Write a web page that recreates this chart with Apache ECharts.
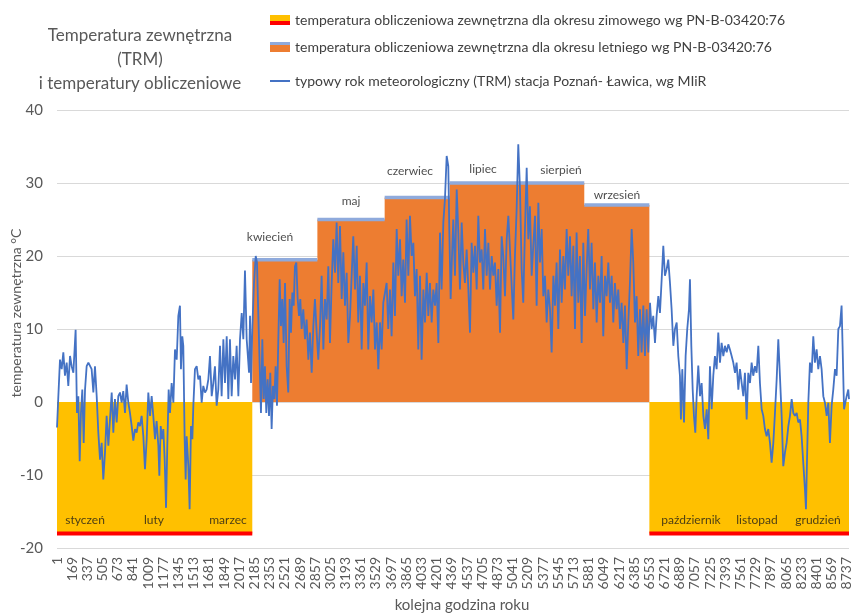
<!DOCTYPE html>
<html>
<head>
<meta charset="utf-8">
<script src="https://cdn.jsdelivr.net/npm/echarts@6.0.0/dist/echarts.min.js"></script>
<style>
html,body{margin:0;padding:0;background:#fff;}
#chart{width:853px;height:614px;}
</style>
</head>
<body>
<div id="chart"></div>
<script>
// ---------- DATA ----------
const titleLines = ['Temperatura zewnętrzna', '(TRM)', 'i temperatury obliczeniowe'];
const winterName = 'temperatura obliczeniowa zewnętrzna dla okresu zimowego wg PN-B-03420:76';
const summerName = 'temperatura obliczeniowa zewnętrzna dla okresu letniego wg PN-B-03420:76';
const trmName = 'typowy rok meteorologiczny (TRM) stacja Poznań- Ławica, wg MIiR';
const yAxisTitle = 'temperatura zewnętrzna °C';
const xAxisTitle = 'kolejna godzina roku';

const hoursInYear = 8760;
const xTickStep = 168;          // labels 1, 169, 337, ... 8737
const yMin = -20, yMax = 40, yStep = 10;

// winter design temperature and its periods (hour ranges)
const winterDesignTemp = -18;
const winterStartHour = [0, 6552];
const winterEndHour = [2160, 8760];

// summer design temperatures per month (April .. September)
const summerStartHour = [2160, 2880, 3624, 4344, 5088, 5832];
const summerEndHour   = [2880, 3624, 4344, 5088, 5832, 6552];
const summerDesignTemp = [19.5, 25, 28, 30, 30, 27];

// month labels
const monthNames = ['styczeń','luty','marzec','kwiecień','maj','czerwiec','lipiec','sierpień','wrzesień','październik','listopad','grudzień'];
const monthLabelHour = [310, 1073, 1891, 2356, 3252, 3904, 4712, 5574, 6193, 7012, 7742, 8417];
const monthLabelTemp = [-16.2, -16.2, -16.2, 22.6, 27.5, 31.6, 31.9, 31.7, 28.3, -16.2, -16.2, -16.2];

// typical meteorological year (hour, °C)
const trmHour = [0,7,15,33,52,70,88,107,125,144,162,181,206,221,236,251,265,280,295,310,328,347,365,383,402,420,439,457,476,494,512,531,549,568,586,605,623,641,660,678,697,715,733,752,770,789,807,826,844,863,881,899,918,936,955,973,992,1010,
1029,1047,1065,1084,1102,1121,1132,1147,1161,1176,1191,1206,1220,1235,1250,1268,1287,1305,1324,1342,1360,1371,1386,1397,1412,1423,1434,1453,1467,1482,1497,1508,1526,1545,1563,1582,1600,1618,1637,1655,1674,1692,1711,1729,1747,1766,1784,1803,1821,1840,1858,1877,1895,1913,1932,1950,1969,1987,2006,2024,2043,2061,
2079,2098,2124,2135,2146,2161,2179,2198,2212,2227,2242,2256,2271,2286,2300,2315,2330,2345,2359,2374,2389,2404,2418,2433,2448,2463,2477,2492,2507,2522,2540,2558,2573,2588,2603,2618,2632,2647,2662,2677,2691,2706,2724,2743,2761,2780,2798,2817,2835,2853,2872,2890,2909,2927,2946,2964,2983,3001,3019,3038,3056,3075,3093,3111,3130,3149,3167,3185,3204,3222,
3241,3277,3296,3315,3332,3351,3370,3388,3406,3425,3443,3462,3480,3499,3517,3536,3554,3572,3591,3609,3646,3664,3683,3701,3720,3738,3757,3775,3794,3812,3830,3849,3867,3886,3904,3923,3941,3959,3978,3996,4015,4033,4052,4070,4089,4107,4125,4144,4162,4181,4199,4218,4236,4254,4273,4291,4310,4328,4339,4354,4369,4383,4402,4421,4439,4457,4476,4494,4512,4531,4550,4568,4586,4605,4623,4642,4660,4678,4697,4715,4734,4752,4771,4789,4808,4826,4844,4863,4881,4900,4918,4936,4955,4974,4992,5010,5029,5047,5065,5084,5102,5121,5139,5157,5176,5195,5213,5231,5250,5268,5287,5305,5324,5342,
5361,5379,5397,5416,5434,5453,5471,5490,5508,5526,5545,5563,5582,5600,5618,5637,5655,5674,5692,5711,5729,5747,5766,5784,5803,5821,5840,5858,5876,5895,5913,5932,5950,5969,5987,6006,6024,6042,6061,6079,6098,6116,6135,6153,6171,6190,6208,6227,6245,6264,6282,6301,6319,6337,6356,6374,6393,6411,6429,6448,6466,6485,6503,6522,6540,
6559,6577,6595,6614,6632,6651,6669,6688,6706,6724,6743,6761,6780,6798,6817,6835,6854,6872,6890,6901,6916,6935,6953,6971,6990,7001,7016,7031,7045,7060,7075,7093,7112,7130,7149,7167,7186,7204,7222,7241,7259,7277,7296,7314,7333,7351,7370,7388,7407,7425,7443,7462,7480,7499,7517,7536,7554,7573,7591,7609,7628,7646,7665,7683,7701,7720,7738,7757,7775,7794,7812,7830,7849,7867,7886,7904,7923,7941,7960,7978,7996,8015,8033,8052,8070,8089,8107,8126,8144,8162,8181,8199,8218,8236,8254,8273,8284,8295,8310,8328,8347,8365,8383,8402,8420,8439,8457,8476,8494,8513,8531,8549,8568,8586,8605,8623,8642,8660,8678,8689,8705,8719,8734,8752,8760];
const trmTemp = [-3.5,-3.3,0.8,5.8,4.5,6.8,3.6,5.4,2.2,6.3,4.9,4,9.9,-1.5,0.8,-8.1,-1.5,1.7,-5.6,1.7,4.9,5.4,5.2,4.5,1.3,4.9,0.8,-4.2,-7.9,-5.6,-10.6,-6.9,-1.9,-6,-2.4,1.3,-4.2,0.4,-2.8,0.8,1.3,-0.1,1.5,-1.5,2.4,-0.1,-1.5,-3.3,-5.3,-3.7,-4.2,-2.8,-3.3,-1.9,-4.7,-9.2,-5.1,1.3,
-1.9,0.8,-1.9,-5.1,-2.6,-6,-10.1,-3.3,-5.1,-3.7,-7.9,-14.5,-6,1.7,-1.5,2.6,-0.1,7.2,5.8,11.8,13.2,4.5,9,7.7,-5.1,-10.6,-4.7,-8.8,-14.7,-3.3,-5.1,-0.5,4.5,4.9,3.1,3.6,-0.1,2.2,1.3,1.7,3.1,6.3,0.8,2.6,4.9,-0.5,1.7,7.7,0.8,8.6,2.6,9,0.4,8.6,0.8,6.3,3.1,7.7,0.8,8.6,12.2,8.6,
18,8.6,4,11.8,2.6,10.4,16.3,20,19.1,11.8,4.9,-1.5,8.6,0.4,4.9,-1.5,3.1,-1.9,4,-3.7,2.2,0.4,4.9,-0.5,8.6,16.8,10.4,14.1,8.1,16.3,4.9,1.3,14.1,9.5,15,13.2,18.6,19.1,14.1,11.8,14.1,10,12.7,8.6,11.3,5.8,9.5,4,10.4,14.1,9.5,5.8,10.4,17.3,7.2,14.1,11.3,18.6,8.1,16.3,22.3,17.7,24.6,16.3,24.1,14.1,20.5,13.2,17.7,8.1,
11.8,22.7,15.4,21.4,10.9,17.3,7.2,16.3,13.2,19.1,7.2,14.5,10.9,15.4,7.2,10.9,4.5,10.9,7.2,13.6,16.3,10,15.4,9,19.1,11.8,23.7,17.3,22.3,14.5,19.5,13.6,25,17.3,25.5,20,21.8,14.5,18.2,7.2,17.3,5.8,15.4,10.9,17.7,11.8,16.3,10.9,15.4,13.2,16.3,8.1,23.2,15.4,24.6,27.8,33.7,32.3,23.7,14.1,20,25,17.3,29.1,23.2,15.4,24.6,19.1,16.3,20.9,15.4,9.5,21.8,17.7,21.4,15.4,25.5,19.1,20.9,15.4,23.7,17.3,21.8,15.4,20,17.3,19.1,13.2,18.2,9.5,22.7,20,14.5,22.3,25.5,20.9,15.9,11.3,20,26.4,35.3,29.1,18.2,13.6,23.7,32.1,22.3,26.8,17.3,21.4,25.5,13.2,27.3,19.1,
23.7,14.5,17.3,10.9,15.4,12.7,6.8,17.3,13.2,19.1,10,20.9,13.6,20,15.4,23.7,17.3,22.7,14.5,21.4,10,23.2,13.6,20,8.1,21.8,11.8,18.2,23.7,15.4,21.8,12.7,19.1,10.9,17.3,13.6,20,9,17.3,14.5,19.1,13.6,17.3,10.9,16.3,12.7,15.4,10,13.6,8.1,13.2,4.5,10.9,16.3,23.7,19.1,10.9,14.5,6.3,12.7,6.8,13.2,6.3,12.7,6.8,
13.6,10,11.8,8.1,11.8,14.5,12.2,16.8,21.4,17.3,18.2,19.5,16.3,12.7,7.7,10,10.9,6.3,3.6,-2.4,4.5,-2.8,6.3,10,12.7,16.8,7.7,1.7,-1.9,-4.2,0.8,5,0.8,2.6,-1.9,-3.7,-1,-5.1,4.9,-1,3.6,6.3,4.5,9.5,5.4,8.1,6.3,7.7,6.8,7.9,7.2,6.3,5.4,4,5.4,1.7,4.5,2.6,0.8,4,-2.4,4,2.6,5.4,3.6,4.9,4,7.7,2.6,-1,-1.9,-3.7,-4.7,-3.7,-5.6,-8.3,-5.6,-1.5,3.1,8.6,3.6,-1.9,-8.8,-6.9,-5.6,-3.3,-1.9,0.4,-1.5,-1.9,-1.5,-2.8,-2.4,-4.7,-8.3,-12,-14.7,-8.3,-0.1,5.4,4,9,5.4,7.2,4.5,6.3,4.5,0.8,-0.1,-1.9,-0.1,-5.6,-0.5,1.7,4.5,3.6,10,10.4,13.2,7.7,-1,-0.1,0.8,1.7,0.4];

// ---------- BUILD ----------
const FONT = 'Lato, "Liberation Sans", sans-serif';
const GRAY = '#595959';
const YELLOW = '#FFC000', RED = '#FF0000', ORANGE = '#ED7D31', LBLUE = '#8FAADC', BLUE = '#4472C4';

function svgIcon(body) {
  return 'image://data:image/svg+xml;charset=utf-8,' + encodeURIComponent(
    "<svg xmlns='http://www.w3.org/2000/svg' width='20' height='10'>" + body + "</svg>");
}
const winterIcon = svgIcon("<rect width='20' height='10' fill='" + YELLOW + "'/><rect y='6' width='20' height='4' fill='" + RED + "'/>");
const summerIcon = svgIcon("<rect width='20' height='10' fill='" + ORANGE + "'/><rect width='20' height='3' fill='" + LBLUE + "'/>");
const trmIcon = svgIcon("<rect y='4' width='20' height='2' fill='" + BLUE + "'/>");

const series = [];
// winter areas + red design line
for (let i = 0; i < winterStartHour.length; i++) {
  series.push({
    name: winterName, type: 'line', symbol: 'none', silent: true, z: 1,
    data: [[winterStartHour[i], winterDesignTemp], [winterEndHour[i], winterDesignTemp]],
    lineStyle: { color: RED, width: 4 },
    itemStyle: { color: YELLOW },
    areaStyle: { color: YELLOW, opacity: 1 }
  });
}
// summer step area
const summerAreaData = summerStartHour.map((h, i) => [h, summerDesignTemp[i]]);
summerAreaData.push([summerEndHour[summerEndHour.length - 1], summerDesignTemp[summerDesignTemp.length - 1]]);
series.push({
  name: summerName, type: 'line', step: 'end', symbol: 'none', silent: true, z: 1,
  data: summerAreaData,
  lineStyle: { width: 0 },
  itemStyle: { color: ORANGE },
  areaStyle: { color: ORANGE, opacity: 1 }
});
// summer top lines (broken between months)
const summerTopData = [];
summerStartHour.forEach((h, i) => {
  summerTopData.push([h, summerDesignTemp[i]]);
  summerTopData.push([summerEndHour[i], summerDesignTemp[i]]);
  if (i < summerStartHour.length - 1) summerTopData.push([summerEndHour[i], '-']);
});
series.push({
  name: summerName, type: 'line', symbol: 'none', silent: true, z: 2,
  data: summerTopData, connectNulls: false,
  lineStyle: { color: LBLUE, width: 3.5, cap: 'butt' },
  itemStyle: { color: LBLUE }
});
// TRM hourly line
series.push({
  name: trmName, type: 'line', symbol: 'none', z: 3,
  data: trmHour.map((h, i) => [h, trmTemp[i]]),
  lineStyle: { color: BLUE, width: 1.8 },
  itemStyle: { color: BLUE }
});
// month labels
series.push({
  name: 'months', type: 'scatter', symbolSize: 0, z: 5, silent: true,
  data: monthNames.map((n, i) => ({ name: n, value: [monthLabelHour[i], monthLabelTemp[i]] })),
  label: { show: true, position: 'inside', formatter: '{b}', color: '#1a1a1a', fontSize: 12, fontFamily: FONT }
});

const legendText = { fontSize: 14, color: '#404040', fontFamily: FONT, lineHeight: 16 };
const option = {
  animation: false,
  backgroundColor: '#ffffff',
  title: {
    text: titleLines.join('\n'), left: 135, top: 19, textAlign: 'center',
    textStyle: { fontSize: 17, fontWeight: 'normal', color: GRAY, fontFamily: FONT, lineHeight: 24 }
  },
  legend: [
    { data: [{ name: winterName, icon: winterIcon }], left: 270, top: 12, padding: 0, itemWidth: 20, itemHeight: 10, itemGap: 5, textStyle: legendText, selectedMode: false },
    { data: [{ name: summerName, icon: summerIcon }], left: 270, top: 39, padding: 0, itemWidth: 20, itemHeight: 10, itemGap: 5, textStyle: legendText, selectedMode: false },
    { data: [{ name: trmName, icon: trmIcon }], left: 270, top: 73, padding: 0, itemWidth: 20, itemHeight: 10, itemGap: 5, textStyle: legendText, selectedMode: false }
  ],
  grid: { left: 57, right: 4, top: 110, bottom: 66, containLabel: false, outerBoundsMode: 'none' },
  xAxis: {
    type: 'value', min: 0, max: hoursInYear, interval: xTickStep,
    name: xAxisTitle, nameLocation: 'middle', nameGap: 49,
    nameTextStyle: { fontSize: 15, color: GRAY, fontFamily: FONT, padding: [0, 0, 0, 18] },
    axisLine: { show: false }, axisTick: { show: false }, splitLine: { show: false },
    axisLabel: {
      rotate: 90, margin: 9, fontSize: 14, color: GRAY, fontFamily: FONT,
      formatter: v => (v % xTickStep === 0 ? String(v + 1) : '')
    }
  },
  yAxis: {
    type: 'value', min: yMin, max: yMax, interval: yStep,
    axisLine: { show: false }, axisTick: { show: false },
    splitLine: { lineStyle: { color: '#D9D9D9', width: 1 } },
    axisLabel: { fontSize: 15, color: GRAY, fontFamily: FONT, margin: 14 }
  },
  graphic: [{
    type: 'text', x: 16, y: 313, rotation: Math.PI / 2,
    style: { text: yAxisTitle, fontSize: 14, fill: GRAY, fontFamily: FONT, textAlign: 'center', textVerticalAlign: 'middle' }
  }],
  series: series
};

const chart = echarts.init(document.getElementById('chart'), null, { renderer: 'canvas' });
chart.setOption(option);
</script>
</body>
</html>
